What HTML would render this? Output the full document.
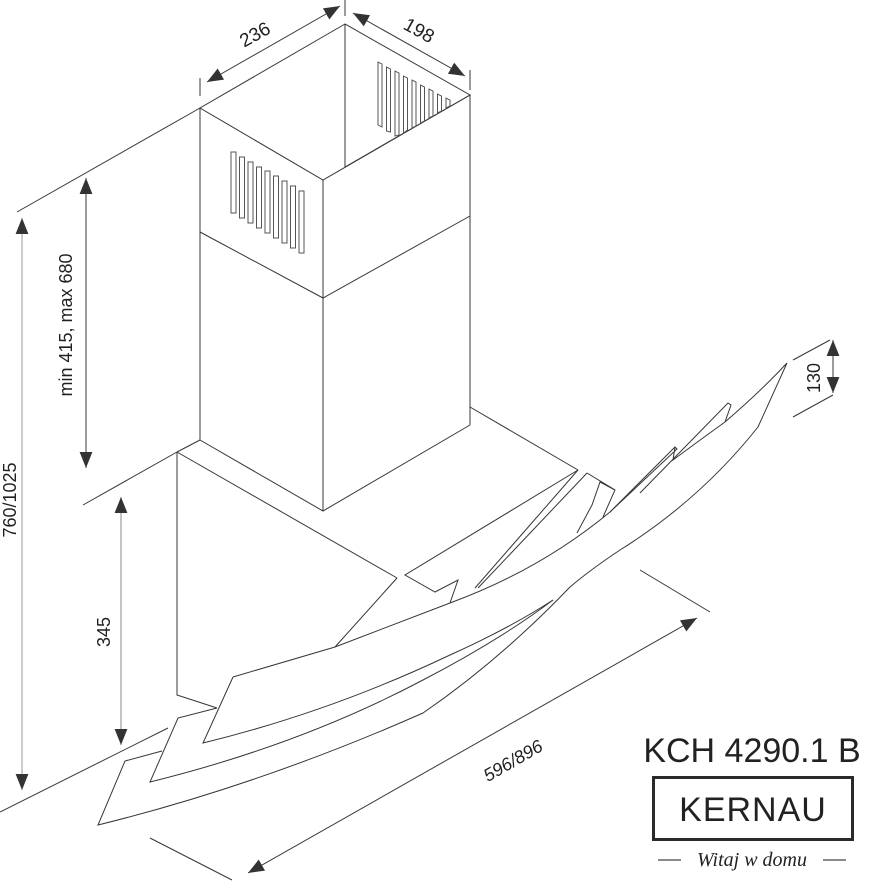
<!DOCTYPE html>
<html><head><meta charset="utf-8"><style>
html,body{margin:0;padding:0;background:#fff;width:874px;height:882px;overflow:hidden}
svg{display:block}
text{font-family:"Liberation Sans",sans-serif;fill:#231f20}
</style></head><body>
<svg width="874" height="882" viewBox="0 0 874 882" xmlns="http://www.w3.org/2000/svg">
<defs>
<marker id="a" viewBox="0 0 10 10" refX="10" refY="5" markerWidth="16" markerHeight="16" markerUnits="userSpaceOnUse" orient="auto-start-reverse"><path d="M0,1 L10,5 L0,9 Z" fill="#333"/></marker>
</defs>
<g fill="none" stroke="#3a3435" stroke-width="1">
<path d="M345,24 L200,108 L323,180 L470,95 Z"/>
<path d="M345,24 L345,167 L470,95"/>
<path d="M200,108 L200,440 M323,180 L323,511 M470,95 L470,425" />
<path d="M200,232 L323,298 L470,216"/>
<path d="M200,440 L323,511 L470,425"/>
<g stroke="#555">
<rect x="231" y="152" width="5" height="61"/>
<rect x="239.5" y="157" width="5" height="61"/>
<rect x="248" y="162" width="5" height="61"/>
<rect x="256.5" y="167" width="5" height="61"/>
<rect x="265" y="171" width="5" height="62"/>
<rect x="273.5" y="176" width="5" height="62"/>
<rect x="282" y="181" width="5" height="62"/>
<rect x="290.5" y="186" width="5" height="62"/>
<rect x="299" y="191" width="5" height="62"/>
</g>
<g stroke="#555">
<path d="M378,62 L378,125 L382,127 L382,64 Z"/>
<path d="M386.5,67 L386.5,131 L390.5,132 L390.5,69 Z"/>
<path d="M395,71 L395,136 L399,135 L399,73 Z"/>
<path d="M403.5,76 L403.5,133 L407.5,130 L407.5,78 Z"/>
<path d="M412,80 L412,128 L416,126 L416,82 Z"/>
<path d="M420.5,85 L420.5,123 L424.5,121 L424.5,87 Z"/>
<path d="M429,89 L429,118 L433,116 L433,91 Z"/>
<path d="M437.5,94 L437.5,113 L441.5,111 L441.5,96 Z"/>
<path d="M446,98 L446,108 L450,106 L450,100 Z"/>
</g>
<path d="M177,452 L200,440"/>
<path d="M177,452 L177,695 L217,708"/>
<path d="M177,452 L397,578"/>
<path d="M470,407 L578,470"/>
<path d="M578,470 L405,575 L435,592 L458,580 L450,603"/>
<path d="M397,578 L335,647"/>
<path d="M578,470 L475,588 M587,473 L478,588 M587,473 L615,490 L603,517 M615,490 L600,482 L592,505 L577,533"/>
<path d="M233,677 L203,743 Q330,712 450,655 Q510,628 553,600"/>
<path d="M233,677 L335,647 L450,603 Q540,570 610,512 L677,449 L675,447 L673,460 Q700,440 725,422 L731,405 L728,403 L640,493 M725,422 Q760,392 787,363 L758,427 Q700,500 620,550 Q590,570 570,587"/>
<path d="M610,512 L675,447"/>
<path d="M217,708 L178,718 L150,782 Q300,745 423,680 Q500,640 553,600"/>
<path d="M162,751 L125,761 L98,825 Q260,785 423,713 Q500,660 570,587"/>
<path d="M200,108 L17,212"/>
<path d="M177,452 L83,505"/>
<path d="M168,728 L0,812"/>
<path d="M200,78 L200,96 M345,0 L345,16 M470,70 L470,90"/>
<path d="M793,360 L830,340 M793,417 L833,395"/>
<path d="M640,570 L710,612 M150,838 L232,880"/>
</g>
<g stroke="#3a3435" stroke-width="1" fill="none">
<line x1="207" y1="82" x2="340" y2="6" marker-start="url(#a)" marker-end="url(#a)"/>
<line x1="353" y1="13" x2="465" y2="76" marker-start="url(#a)" marker-end="url(#a)"/>
<line x1="22" y1="218" x2="22" y2="790" marker-start="url(#a)" marker-end="url(#a)" stroke="#999"/>
<line x1="86" y1="178" x2="86" y2="468" marker-start="url(#a)" marker-end="url(#a)"/>
<line x1="121" y1="497" x2="121" y2="745" marker-start="url(#a)" marker-end="url(#a)" stroke="#888"/>
<line x1="833" y1="340" x2="833" y2="393" marker-start="url(#a)" marker-end="url(#a)"/>
<line x1="248" y1="873" x2="697" y2="618" marker-start="url(#a)" marker-end="url(#a)"/>
</g>
<text x="258" y="40" font-size="19" text-anchor="middle" transform="rotate(-29 258 40)">236</text>
<text x="416" y="36" font-size="19" text-anchor="middle" transform="rotate(29 416 36)">198</text>
<text x="16" y="500" font-size="18" text-anchor="middle" transform="rotate(-90 16 500)">760/1025</text>
<text x="72" y="325" font-size="18" text-anchor="middle" transform="rotate(-90 72 325)">min 415, max 680</text>
<text x="110" y="632" font-size="18" text-anchor="middle" transform="rotate(-90 110 632)">345</text>
<text x="820" y="378" font-size="18" text-anchor="middle" transform="rotate(-90 820 378)">130</text>
<text x="516" y="766" font-size="18" font-style="italic" text-anchor="middle" transform="rotate(-30 516 766)">596/896</text>
<text x="752" y="762" font-size="34" text-anchor="middle" style="fill:#222">KCH 4290.1 B</text>
<rect x="653.5" y="777.5" width="199" height="62" fill="none" stroke="#2a2a2a" stroke-width="3"/>
<text x="753" y="821" font-size="34" text-anchor="middle" style="fill:#222;letter-spacing:1px">KERNAU</text>
<line x1="658" y1="860" x2="681" y2="860" stroke="#444" stroke-width="1.2"/>
<line x1="823" y1="860" x2="846" y2="860" stroke="#444" stroke-width="1.2"/>
<text x="752" y="866" font-size="20" font-style="italic" text-anchor="middle" style="font-family:'Liberation Serif',serif;fill:#222">Witaj w domu</text>
</svg>
</body></html>
